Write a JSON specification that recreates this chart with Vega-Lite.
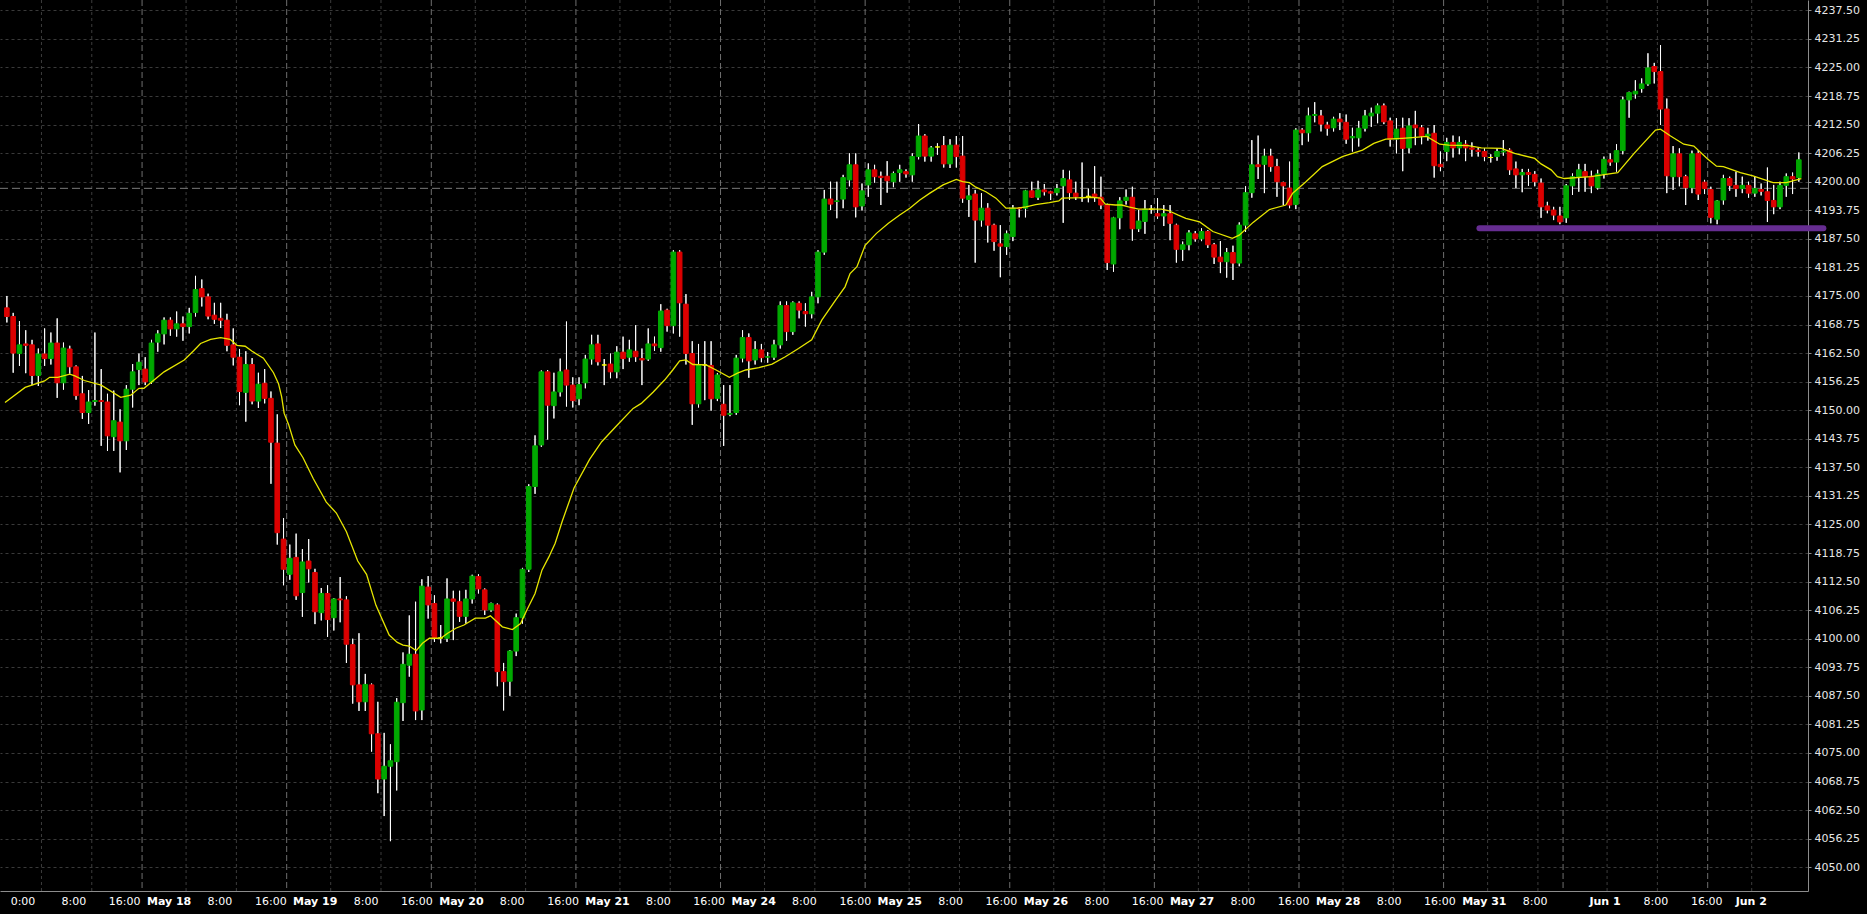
{
"$schema":"https://vega.github.io/schema/vega-lite/v6.json",
"width":1808,"height":891,
"autosize":{"type":"none"},
"padding":{"left":0,"top":0,"right":59,"bottom":23},
"background":"#000000",
"config":{"view":{"stroke":null},"font":"DejaVu Sans",
 "axisX":{"title":null,"grid":false,"ticks":false,"domain":true,"domainColor":"#8c8c8c","domainWidth":1,"labelColor":"#ffffff","labelFont":"DejaVu Sans","labelFontSize":11,"labelPadding":4,"labelOverlap":false,"labelFlush":false,"labelBound":false},
 "axisY":{"title":null,"grid":true,"gridColor":"#3a3a3a","gridDash":[3,3],"gridWidth":1,"ticks":true,"tickSize":3,"tickColor":"#8c8c8c","domain":true,"domainColor":"#8c8c8c","domainWidth":1,"labelColor":"#e6e6e6","labelFont":"DejaVu Sans","labelFontSize":11,"labelPadding":3,"labelOverlap":false,"labelFlush":false,"labelBound":false}
},
"resolve":{"axis":{"x":"shared","y":"shared"}},
"datasets":{
"vgn":[{"g":5.5},{"g":13.5},{"g":28.5},{"g":36.5},{"g":51.5},{"g":59.5},{"g":74.5},{"g":82.5},{"g":97.5},{"g":105.5},{"g":120.5},{"g":128.5},{"g":143.5},{"g":151.5},{"g":166.5},{"g":174.5},{"g":189.5},{"g":197.5},{"g":212.5},{"g":220.5},{"g":235.5},{"g":243.5},{"g":254.5},{"g":262.5},{"g":277.5}],
"vgb":[{"g":21.5},{"g":44.5},{"g":67.5},{"g":90.5},{"g":113.5},{"g":136.5},{"g":159.5},{"g":182.5},{"g":205.5},{"g":228.5},{"g":247.5},{"g":270.5}],
"cur":[{"p":4198.55}],
"lvl":[{"x1":234.2,"x2":288.9,"p":4189.8}],
"bars":[
{"i":0,"o":4172.4,"h":4175.0,"l":4169.2,"c":4170.5},
{"i":1,"o":4170.5,"h":4171.3,"l":4158.2,"c":4162.5},
{"i":2,"o":4162.4,"h":4169.5,"l":4159.7,"c":4164.3},
{"i":3,"o":4164.5,"h":4167.5,"l":4158.1,"c":4164.2},
{"i":4,"o":4164.3,"h":4165.4,"l":4155.5,"c":4157.6},
{"i":5,"o":4157.6,"h":4163.5,"l":4155.3,"c":4162.3},
{"i":6,"o":4162.3,"h":4167.9,"l":4159.7,"c":4161.3},
{"i":7,"o":4161.3,"h":4167.0,"l":4160.0,"c":4164.7},
{"i":8,"o":4164.7,"h":4170.1,"l":4152.7,"c":4156.0},
{"i":9,"o":4156.0,"h":4164.8,"l":4154.5,"c":4163.6},
{"i":10,"o":4163.4,"h":4164.1,"l":4158.0,"c":4159.5},
{"i":11,"o":4159.5,"h":4159.8,"l":4152.3,"c":4153.2},
{"i":12,"o":4153.6,"h":4157.5,"l":4148.1,"c":4149.5},
{"i":13,"o":4149.5,"h":4154.4,"l":4147.0,"c":4151.8},
{"i":14,"o":4151.9,"h":4167.0,"l":4151.0,"c":4152.1},
{"i":15,"o":4152.1,"h":4159.0,"l":4142.2,"c":4151.9},
{"i":16,"o":4151.8,"h":4153.6,"l":4141.1,"c":4144.4},
{"i":17,"o":4144.2,"h":4154.3,"l":4141.1,"c":4147.7},
{"i":18,"o":4147.4,"h":4150.2,"l":4136.4,"c":4143.3},
{"i":19,"o":4143.3,"h":4155.5,"l":4141.3,"c":4154.6},
{"i":20,"o":4154.6,"h":4160.1,"l":4150.6,"c":4158.4},
{"i":21,"o":4158.9,"h":4162.4,"l":4155.5,"c":4160.5},
{"i":22,"o":4159.0,"h":4161.6,"l":4155.5,"c":4156.2},
{"i":23,"o":4156.2,"h":4165.4,"l":4155.8,"c":4164.7},
{"i":24,"o":4164.9,"h":4167.5,"l":4162.8,"c":4166.7},
{"i":25,"o":4166.7,"h":4170.3,"l":4164.4,"c":4169.7},
{"i":26,"o":4169.7,"h":4170.3,"l":4166.3,"c":4167.8},
{"i":27,"o":4167.8,"h":4171.6,"l":4166.1,"c":4168.9},
{"i":28,"o":4168.9,"h":4170.5,"l":4165.2,"c":4168.3},
{"i":29,"o":4168.3,"h":4172.4,"l":4166.8,"c":4171.2},
{"i":30,"o":4171.4,"h":4179.4,"l":4170.5,"c":4176.4},
{"i":31,"o":4176.6,"h":4178.6,"l":4172.7,"c":4174.8},
{"i":32,"o":4174.8,"h":4175.5,"l":4169.9,"c":4170.6},
{"i":33,"o":4170.8,"h":4173.5,"l":4168.9,"c":4169.9},
{"i":34,"o":4170.1,"h":4173.5,"l":4168.0,"c":4169.7},
{"i":35,"o":4169.7,"h":4171.1,"l":4162.9,"c":4164.2},
{"i":36,"o":4164.3,"h":4167.9,"l":4159.8,"c":4161.6},
{"i":37,"o":4161.6,"h":4163.4,"l":4151.1,"c":4154.1},
{"i":38,"o":4153.9,"h":4162.9,"l":4147.5,"c":4160.0},
{"i":39,"o":4160.0,"h":4161.4,"l":4151.3,"c":4152.0},
{"i":40,"o":4152.0,"h":4158.2,"l":4150.5,"c":4155.7},
{"i":41,"o":4155.9,"h":4159.0,"l":4151.5,"c":4152.6},
{"i":42,"o":4152.6,"h":4154.1,"l":4133.9,"c":4143.0},
{"i":43,"o":4142.8,"h":4149.1,"l":4120.6,"c":4123.2},
{"i":44,"o":4121.8,"h":4126.4,"l":4111.7,"c":4115.2},
{"i":45,"o":4114.1,"h":4120.6,"l":4112.9,"c":4117.6},
{"i":46,"o":4117.8,"h":4123.0,"l":4108.5,"c":4109.4},
{"i":47,"o":4110.1,"h":4119.6,"l":4104.8,"c":4116.8},
{"i":48,"o":4117.0,"h":4121.8,"l":4112.3,"c":4115.3},
{"i":49,"o":4114.5,"h":4115.3,"l":4103.2,"c":4105.9},
{"i":50,"o":4105.7,"h":4111.1,"l":4104.0,"c":4109.9},
{"i":51,"o":4109.9,"h":4111.7,"l":4100.4,"c":4104.2},
{"i":52,"o":4104.6,"h":4108.9,"l":4101.8,"c":4108.7},
{"i":53,"o":4108.7,"h":4113.5,"l":4103.6,"c":4108.5},
{"i":54,"o":4108.5,"h":4109.3,"l":4094.7,"c":4098.8},
{"i":55,"o":4098.7,"h":4100.0,"l":4085.8,"c":4089.9},
{"i":56,"o":4089.9,"h":4101.2,"l":4084.2,"c":4086.2},
{"i":57,"o":4086.2,"h":4092.3,"l":4084.2,"c":4090.0},
{"i":58,"o":4089.9,"h":4090.2,"l":4075.3,"c":4079.2},
{"i":59,"o":4079.2,"h":4086.2,"l":4066.2,"c":4069.3},
{"i":60,"o":4069.3,"h":4079.4,"l":4061.2,"c":4072.1},
{"i":61,"o":4072.1,"h":4076.9,"l":4055.7,"c":4073.3},
{"i":62,"o":4073.1,"h":4087.0,"l":4066.8,"c":4086.1},
{"i":63,"o":4086.0,"h":4097.0,"l":4082.0,"c":4094.4},
{"i":64,"o":4094.2,"h":4105.1,"l":4091.7,"c":4096.6},
{"i":65,"o":4096.6,"h":4108.1,"l":4082.2,"c":4084.2},
{"i":66,"o":4084.4,"h":4113.0,"l":4082.2,"c":4111.5},
{"i":67,"o":4111.3,"h":4113.7,"l":4104.4,"c":4107.4},
{"i":68,"o":4107.7,"h":4109.5,"l":4099.3,"c":4100.2},
{"i":69,"o":4100.2,"h":4103.0,"l":4099.0,"c":4100.2},
{"i":70,"o":4100.1,"h":4113.2,"l":4099.3,"c":4108.7},
{"i":71,"o":4108.7,"h":4110.5,"l":4099.7,"c":4108.2},
{"i":72,"o":4108.1,"h":4110.5,"l":4103.7,"c":4104.9},
{"i":73,"o":4104.9,"h":4110.7,"l":4103.3,"c":4108.7},
{"i":74,"o":4108.7,"h":4114.0,"l":4107.7,"c":4113.7},
{"i":75,"o":4113.6,"h":4114.1,"l":4109.9,"c":4110.9},
{"i":76,"o":4110.7,"h":4111.0,"l":4105.2,"c":4106.3},
{"i":77,"o":4106.3,"h":4107.9,"l":4105.9,"c":4107.7},
{"i":78,"o":4107.4,"h":4107.7,"l":4089.6,"c":4092.8},
{"i":79,"o":4092.8,"h":4094.7,"l":4084.3,"c":4090.6},
{"i":80,"o":4090.7,"h":4097.5,"l":4087.5,"c":4097.3},
{"i":81,"o":4097.3,"h":4105.5,"l":4096.2,"c":4104.6},
{"i":82,"o":4104.6,"h":4115.5,"l":4103.3,"c":4115.2},
{"i":83,"o":4115.2,"h":4133.8,"l":4114.6,"c":4133.3},
{"i":84,"o":4133.3,"h":4144.5,"l":4131.7,"c":4142.2},
{"i":85,"o":4142.4,"h":4158.7,"l":4142.0,"c":4158.4},
{"i":86,"o":4158.4,"h":4158.8,"l":4143.6,"c":4151.1},
{"i":87,"o":4151.0,"h":4158.2,"l":4148.2,"c":4154.0},
{"i":88,"o":4154.0,"h":4161.3,"l":4153.0,"c":4158.4},
{"i":89,"o":4158.8,"h":4169.4,"l":4150.8,"c":4155.5},
{"i":90,"o":4155.5,"h":4157.2,"l":4150.6,"c":4152.1},
{"i":91,"o":4152.5,"h":4157.2,"l":4151.1,"c":4155.6},
{"i":92,"o":4156.0,"h":4162.1,"l":4154.8,"c":4161.2},
{"i":93,"o":4161.2,"h":4166.5,"l":4160.0,"c":4164.3},
{"i":94,"o":4164.5,"h":4166.5,"l":4159.8,"c":4160.6},
{"i":95,"o":4159.9,"h":4161.2,"l":4155.5,"c":4159.9},
{"i":96,"o":4160.1,"h":4162.4,"l":4157.0,"c":4158.4},
{"i":97,"o":4158.4,"h":4164.0,"l":4157.0,"c":4162.7},
{"i":98,"o":4162.7,"h":4166.1,"l":4159.0,"c":4161.3},
{"i":99,"o":4161.6,"h":4165.4,"l":4160.6,"c":4163.2},
{"i":100,"o":4162.9,"h":4168.6,"l":4160.6,"c":4161.7},
{"i":101,"o":4161.3,"h":4163.5,"l":4155.5,"c":4161.0},
{"i":102,"o":4161.2,"h":4167.9,"l":4160.8,"c":4164.5},
{"i":103,"o":4164.5,"h":4166.1,"l":4163.0,"c":4164.1},
{"i":104,"o":4163.7,"h":4173.2,"l":4162.8,"c":4171.7},
{"i":105,"o":4171.9,"h":4172.2,"l":4167.2,"c":4168.5},
{"i":106,"o":4168.5,"h":4185.0,"l":4166.8,"c":4184.6},
{"i":107,"o":4184.6,"h":4185.0,"l":4166.1,"c":4173.5},
{"i":108,"o":4173.2,"h":4175.4,"l":4160.0,"c":4162.4},
{"i":109,"o":4162.4,"h":4165.1,"l":4146.8,"c":4151.4},
{"i":110,"o":4151.4,"h":4164.5,"l":4150.6,"c":4159.9},
{"i":111,"o":4159.9,"h":4165.1,"l":4152.2,"c":4159.9},
{"i":112,"o":4159.8,"h":4165.1,"l":4149.9,"c":4152.5},
{"i":113,"o":4152.6,"h":4158.1,"l":4152.0,"c":4157.7},
{"i":114,"o":4151.3,"h":4155.5,"l":4142.2,"c":4148.9},
{"i":115,"o":4149.1,"h":4155.5,"l":4148.7,"c":4149.3},
{"i":116,"o":4149.5,"h":4162.1,"l":4149.0,"c":4161.4},
{"i":117,"o":4161.4,"h":4167.5,"l":4160.5,"c":4165.9},
{"i":118,"o":4165.9,"h":4166.8,"l":4157.1,"c":4160.8},
{"i":119,"o":4161.0,"h":4165.1,"l":4160.0,"c":4163.3},
{"i":120,"o":4163.2,"h":4164.5,"l":4160.5,"c":4161.5},
{"i":121,"o":4161.6,"h":4162.7,"l":4160.4,"c":4161.7},
{"i":122,"o":4161.6,"h":4165.4,"l":4161.0,"c":4164.3},
{"i":123,"o":4164.3,"h":4173.8,"l":4163.5,"c":4172.9},
{"i":124,"o":4172.9,"h":4173.8,"l":4165.2,"c":4167.2},
{"i":125,"o":4167.2,"h":4173.8,"l":4166.5,"c":4173.5},
{"i":126,"o":4173.4,"h":4173.8,"l":4170.1,"c":4171.9},
{"i":127,"o":4171.6,"h":4173.4,"l":4168.3,"c":4171.1},
{"i":128,"o":4171.1,"h":4175.9,"l":4170.1,"c":4174.8},
{"i":129,"o":4174.8,"h":4185.0,"l":4173.4,"c":4184.6},
{"i":130,"o":4184.6,"h":4198.2,"l":4184.0,"c":4196.2},
{"i":131,"o":4196.2,"h":4200.0,"l":4193.8,"c":4195.1},
{"i":132,"o":4195.7,"h":4200.0,"l":4192.0,"c":4195.8},
{"i":133,"o":4196.2,"h":4201.5,"l":4194.2,"c":4200.9},
{"i":134,"o":4200.4,"h":4206.2,"l":4199.0,"c":4203.7},
{"i":135,"o":4203.7,"h":4206.2,"l":4192.2,"c":4194.5},
{"i":136,"o":4194.7,"h":4199.6,"l":4193.7,"c":4198.0},
{"i":137,"o":4199.3,"h":4204.0,"l":4196.7,"c":4202.6},
{"i":138,"o":4202.6,"h":4203.7,"l":4199.8,"c":4201.1},
{"i":139,"o":4201.2,"h":4202.2,"l":4194.9,"c":4200.9},
{"i":140,"o":4201.2,"h":4204.5,"l":4197.6,"c":4200.2},
{"i":141,"o":4200.0,"h":4202.2,"l":4198.8,"c":4201.8},
{"i":142,"o":4202.0,"h":4203.7,"l":4200.0,"c":4202.6},
{"i":143,"o":4202.2,"h":4202.7,"l":4200.9,"c":4201.7},
{"i":144,"o":4201.5,"h":4206.2,"l":4200.0,"c":4205.5},
{"i":145,"o":4205.5,"h":4212.6,"l":4204.9,"c":4210.0},
{"i":146,"o":4210.0,"h":4210.4,"l":4204.4,"c":4205.6},
{"i":147,"o":4205.6,"h":4207.8,"l":4204.4,"c":4207.4},
{"i":148,"o":4207.6,"h":4208.4,"l":4205.9,"c":4207.6},
{"i":149,"o":4207.9,"h":4210.0,"l":4203.1,"c":4203.9},
{"i":150,"o":4203.9,"h":4209.3,"l":4203.0,"c":4208.0},
{"i":151,"o":4208.0,"h":4210.0,"l":4203.1,"c":4205.5},
{"i":152,"o":4205.6,"h":4210.0,"l":4195.4,"c":4196.4},
{"i":153,"o":4196.1,"h":4199.3,"l":4192.3,"c":4196.9},
{"i":154,"o":4197.3,"h":4198.2,"l":4182.3,"c":4191.6},
{"i":155,"o":4191.6,"h":4197.5,"l":4190.2,"c":4194.2},
{"i":156,"o":4194.2,"h":4195.3,"l":4186.7,"c":4190.5},
{"i":157,"o":4190.5,"h":4190.8,"l":4184.9,"c":4186.9},
{"i":158,"o":4186.4,"h":4190.5,"l":4179.1,"c":4185.9},
{"i":159,"o":4185.8,"h":4189.3,"l":4184.0,"c":4188.6},
{"i":160,"o":4188.0,"h":4194.9,"l":4187.0,"c":4194.2},
{"i":161,"o":4194.2,"h":4194.4,"l":4192.2,"c":4194.1},
{"i":162,"o":4194.2,"h":4198.2,"l":4192.2,"c":4198.0},
{"i":163,"o":4198.0,"h":4200.0,"l":4196.5,"c":4196.6},
{"i":164,"o":4196.6,"h":4200.2,"l":4196.0,"c":4198.2},
{"i":165,"o":4198.2,"h":4199.5,"l":4197.0,"c":4197.8},
{"i":166,"o":4197.8,"h":4198.0,"l":4196.0,"c":4197.5},
{"i":167,"o":4197.6,"h":4199.5,"l":4197.0,"c":4198.5},
{"i":168,"o":4199.1,"h":4202.6,"l":4191.0,"c":4200.7},
{"i":169,"o":4200.4,"h":4202.4,"l":4196.0,"c":4197.6},
{"i":170,"o":4197.5,"h":4200.0,"l":4196.0,"c":4196.7},
{"i":171,"o":4196.5,"h":4204.2,"l":4195.6,"c":4196.5},
{"i":172,"o":4196.8,"h":4198.5,"l":4195.5,"c":4196.8},
{"i":173,"o":4197.3,"h":4203.4,"l":4195.6,"c":4196.6},
{"i":174,"o":4196.6,"h":4201.1,"l":4194.0,"c":4194.9},
{"i":175,"o":4194.9,"h":4195.2,"l":4180.7,"c":4182.3},
{"i":176,"o":4182.0,"h":4192.3,"l":4180.3,"c":4192.1},
{"i":177,"o":4192.1,"h":4196.6,"l":4189.6,"c":4195.8},
{"i":178,"o":4195.9,"h":4198.3,"l":4195.0,"c":4196.6},
{"i":179,"o":4196.6,"h":4198.9,"l":4187.1,"c":4189.7},
{"i":180,"o":4189.7,"h":4193.8,"l":4189.0,"c":4191.4},
{"i":181,"o":4191.3,"h":4196.0,"l":4188.6,"c":4194.0},
{"i":182,"o":4194.0,"h":4194.9,"l":4193.0,"c":4194.0},
{"i":183,"o":4193.0,"h":4196.4,"l":4191.9,"c":4192.5},
{"i":184,"o":4192.5,"h":4194.9,"l":4190.3,"c":4193.0},
{"i":185,"o":4193.0,"h":4194.9,"l":4187.2,"c":4190.9},
{"i":186,"o":4190.5,"h":4190.8,"l":4182.3,"c":4185.2},
{"i":187,"o":4185.2,"h":4186.9,"l":4182.7,"c":4186.2},
{"i":188,"o":4186.2,"h":4189.4,"l":4185.0,"c":4188.8},
{"i":189,"o":4188.6,"h":4189.2,"l":4186.9,"c":4187.5},
{"i":190,"o":4187.5,"h":4189.8,"l":4187.0,"c":4189.1},
{"i":191,"o":4189.1,"h":4189.4,"l":4185.5,"c":4186.2},
{"i":192,"o":4186.2,"h":4186.6,"l":4182.0,"c":4183.5},
{"i":193,"o":4183.5,"h":4187.0,"l":4180.0,"c":4182.5},
{"i":194,"o":4182.5,"h":4185.5,"l":4179.0,"c":4184.5},
{"i":195,"o":4184.5,"h":4186.0,"l":4178.5,"c":4182.2},
{"i":196,"o":4182.2,"h":4191.1,"l":4181.5,"c":4190.5},
{"i":197,"o":4190.5,"h":4199.0,"l":4189.0,"c":4197.6},
{"i":198,"o":4197.6,"h":4209.1,"l":4196.5,"c":4203.7},
{"i":199,"o":4203.7,"h":4210.1,"l":4200.6,"c":4203.3},
{"i":200,"o":4203.8,"h":4207.2,"l":4197.5,"c":4205.6},
{"i":201,"o":4205.6,"h":4207.2,"l":4202.2,"c":4203.3},
{"i":202,"o":4203.3,"h":4205.0,"l":4196.7,"c":4200.0},
{"i":203,"o":4199.8,"h":4200.0,"l":4194.9,"c":4199.1},
{"i":204,"o":4198.6,"h":4204.4,"l":4194.2,"c":4194.9},
{"i":205,"o":4195.0,"h":4211.7,"l":4194.0,"c":4211.3},
{"i":206,"o":4211.3,"h":4211.7,"l":4208.0,"c":4210.7},
{"i":207,"o":4210.7,"h":4216.2,"l":4208.8,"c":4214.4},
{"i":208,"o":4214.5,"h":4217.4,"l":4213.0,"c":4214.7},
{"i":209,"o":4214.4,"h":4215.7,"l":4211.0,"c":4212.6},
{"i":210,"o":4212.4,"h":4213.1,"l":4210.1,"c":4211.7},
{"i":211,"o":4211.8,"h":4214.2,"l":4211.0,"c":4213.7},
{"i":212,"o":4213.7,"h":4215.0,"l":4211.3,"c":4213.1},
{"i":213,"o":4213.0,"h":4214.7,"l":4208.3,"c":4209.3},
{"i":214,"o":4209.6,"h":4211.8,"l":4206.6,"c":4209.9},
{"i":215,"o":4209.6,"h":4213.3,"l":4207.7,"c":4211.7},
{"i":216,"o":4211.7,"h":4215.7,"l":4211.0,"c":4214.4},
{"i":217,"o":4214.4,"h":4216.2,"l":4212.0,"c":4215.0},
{"i":218,"o":4215.0,"h":4217.1,"l":4212.8,"c":4216.6},
{"i":219,"o":4216.6,"h":4217.1,"l":4212.6,"c":4213.1},
{"i":220,"o":4213.3,"h":4214.0,"l":4207.7,"c":4209.3},
{"i":221,"o":4209.3,"h":4213.9,"l":4206.2,"c":4211.5},
{"i":222,"o":4211.7,"h":4214.0,"l":4202.3,"c":4207.3},
{"i":223,"o":4207.4,"h":4213.9,"l":4206.2,"c":4212.2},
{"i":224,"o":4212.4,"h":4215.5,"l":4208.0,"c":4211.8},
{"i":225,"o":4211.8,"h":4212.4,"l":4208.2,"c":4210.0},
{"i":226,"o":4210.0,"h":4211.8,"l":4209.0,"c":4210.4},
{"i":227,"o":4210.6,"h":4212.4,"l":4200.9,"c":4203.5},
{"i":228,"o":4203.8,"h":4206.6,"l":4202.3,"c":4203.3},
{"i":229,"o":4206.6,"h":4209.6,"l":4204.5,"c":4208.6},
{"i":230,"o":4208.6,"h":4210.1,"l":4205.3,"c":4207.4},
{"i":231,"o":4207.4,"h":4209.9,"l":4206.0,"c":4208.6},
{"i":232,"o":4208.2,"h":4209.1,"l":4204.5,"c":4207.4},
{"i":233,"o":4207.4,"h":4208.6,"l":4205.5,"c":4207.1},
{"i":234,"o":4206.9,"h":4207.4,"l":4205.5,"c":4206.6},
{"i":235,"o":4206.6,"h":4207.3,"l":4204.5,"c":4205.5},
{"i":236,"o":4205.3,"h":4206.0,"l":4204.2,"c":4205.3},
{"i":237,"o":4205.5,"h":4207.3,"l":4204.6,"c":4206.6},
{"i":238,"o":4206.5,"h":4209.1,"l":4205.7,"c":4206.7},
{"i":239,"o":4206.9,"h":4207.3,"l":4201.5,"c":4202.6},
{"i":240,"o":4202.8,"h":4204.4,"l":4198.6,"c":4201.5},
{"i":241,"o":4201.5,"h":4202.8,"l":4197.7,"c":4202.0},
{"i":242,"o":4202.0,"h":4202.8,"l":4199.1,"c":4201.6},
{"i":243,"o":4201.6,"h":4202.3,"l":4199.0,"c":4200.0},
{"i":244,"o":4199.7,"h":4200.7,"l":4192.1,"c":4194.5},
{"i":245,"o":4194.7,"h":4195.6,"l":4193.1,"c":4193.8},
{"i":246,"o":4193.8,"h":4194.5,"l":4191.6,"c":4192.7},
{"i":247,"o":4192.5,"h":4194.5,"l":4190.7,"c":4191.2},
{"i":248,"o":4192.1,"h":4199.5,"l":4191.0,"c":4199.1},
{"i":249,"o":4199.1,"h":4201.8,"l":4197.1,"c":4201.1},
{"i":250,"o":4201.1,"h":4203.9,"l":4197.8,"c":4202.6},
{"i":251,"o":4202.2,"h":4203.9,"l":4197.8,"c":4201.1},
{"i":252,"o":4201.2,"h":4202.4,"l":4197.5,"c":4199.1},
{"i":253,"o":4198.7,"h":4202.6,"l":4198.3,"c":4201.7},
{"i":254,"o":4201.7,"h":4205.5,"l":4200.7,"c":4204.9},
{"i":255,"o":4204.8,"h":4206.2,"l":4203.5,"c":4204.3},
{"i":256,"o":4204.3,"h":4208.2,"l":4202.2,"c":4206.8},
{"i":257,"o":4206.8,"h":4218.6,"l":4206.0,"c":4217.9},
{"i":258,"o":4217.9,"h":4219.7,"l":4214.0,"c":4219.5},
{"i":259,"o":4219.2,"h":4222.2,"l":4218.2,"c":4219.8},
{"i":260,"o":4220.4,"h":4222.6,"l":4219.5,"c":4221.4},
{"i":261,"o":4221.4,"h":4228.1,"l":4221.0,"c":4224.9},
{"i":262,"o":4225.2,"h":4226.0,"l":4221.5,"c":4224.1},
{"i":263,"o":4224.1,"h":4229.9,"l":4212.4,"c":4215.9},
{"i":264,"o":4215.9,"h":4218.2,"l":4197.5,"c":4201.3},
{"i":265,"o":4201.1,"h":4207.8,"l":4198.2,"c":4206.1},
{"i":266,"o":4206.1,"h":4207.3,"l":4199.0,"c":4201.1},
{"i":267,"o":4201.1,"h":4201.5,"l":4194.9,"c":4198.7},
{"i":268,"o":4198.7,"h":4206.8,"l":4197.5,"c":4206.1},
{"i":269,"o":4206.2,"h":4206.9,"l":4196.0,"c":4197.3},
{"i":270,"o":4199.9,"h":4200.4,"l":4197.3,"c":4198.5},
{"i":271,"o":4198.3,"h":4198.9,"l":4190.9,"c":4192.2},
{"i":272,"o":4191.8,"h":4196.0,"l":4190.7,"c":4195.8},
{"i":273,"o":4196.0,"h":4201.5,"l":4195.0,"c":4200.7},
{"i":274,"o":4200.7,"h":4201.1,"l":4198.0,"c":4199.2},
{"i":275,"o":4199.2,"h":4202.2,"l":4196.7,"c":4198.5},
{"i":276,"o":4198.5,"h":4201.1,"l":4197.5,"c":4199.2},
{"i":277,"o":4199.2,"h":4200.0,"l":4196.5,"c":4197.5},
{"i":278,"o":4197.5,"h":4201.1,"l":4196.7,"c":4198.5},
{"i":279,"o":4198.3,"h":4199.6,"l":4197.0,"c":4197.9},
{"i":280,"o":4197.8,"h":4203.1,"l":4191.2,"c":4195.9},
{"i":281,"o":4195.9,"h":4199.3,"l":4192.9,"c":4194.5},
{"i":282,"o":4194.5,"h":4200.0,"l":4194.0,"c":4199.2},
{"i":283,"o":4199.2,"h":4201.8,"l":4196.7,"c":4201.1},
{"i":284,"o":4201.1,"h":4202.0,"l":4197.3,"c":4200.6},
{"i":285,"o":4200.9,"h":4206.4,"l":4200.0,"c":4204.8}
],
"ma":[
{"i":-0.3,"v":4151.7},{"i":2.9,"v":4155.0},{"i":6.0,"v":4156.4},{"i":6.8,"v":4157.2},{"i":8.1,"v":4157.2},{"i":10.0,"v":4157.9},{"i":10.8,"v":4157.5},{"i":12.3,"v":4156.5},{"i":15.0,"v":4155.5},{"i":18.1,"v":4152.8},{"i":19.7,"v":4153.3},{"i":21.0,"v":4154.8},{"i":21.8,"v":4154.8},{"i":25.0,"v":4158.4},{"i":28.2,"v":4161.0},{"i":29.7,"v":4163.0},{"i":30.8,"v":4164.6},{"i":32.4,"v":4165.5},{"i":34.0,"v":4165.9},{"i":35.5,"v":4165.5},{"i":36.6,"v":4164.2},{"i":37.9,"v":4164.0},{"i":39.0,"v":4162.9},{"i":40.8,"v":4161.4},{"i":42.4,"v":4158.2},{"i":43.2,"v":4155.8},{"i":43.7,"v":4152.9},{"i":44.1,"v":4149.3},{"i":44.8,"v":4146.9},{"i":45.8,"v":4142.4},{"i":47.1,"v":4139.6},{"i":48.7,"v":4135.1},{"i":50.8,"v":4129.9},{"i":52.4,"v":4127.5},{"i":54.0,"v":4123.4},{"i":55.8,"v":4117.0},{"i":57.2,"v":4114.1},{"i":58.7,"v":4107.3},{"i":60.8,"v":4100.8},{"i":62.1,"v":4099.2},{"i":63.0,"v":4098.6},{"i":64.0,"v":4098.4},{"i":65.1,"v":4097.4},{"i":66.1,"v":4099.0},{"i":67.2,"v":4100.1},{"i":69.0,"v":4100.1},{"i":70.1,"v":4101.2},{"i":71.4,"v":4102.3},{"i":72.7,"v":4103.0},{"i":74.5,"v":4104.5},{"i":76.1,"v":4104.5},{"i":76.9,"v":4105.0},{"i":78.8,"v":4102.6},{"i":80.4,"v":4102.0},{"i":81.7,"v":4103.3},{"i":82.7,"v":4106.3},{"i":84.0,"v":4109.9},{"i":85.1,"v":4115.0},{"i":86.2,"v":4117.9},{"i":87.2,"v":4120.9},{"i":88.3,"v":4125.6},{"i":90.2,"v":4133.0},{"i":92.7,"v":4139.3},{"i":94.6,"v":4143.1},{"i":96.9,"v":4146.5},{"i":99.6,"v":4150.4},{"i":100.9,"v":4151.5},{"i":102.8,"v":4154.0},{"i":104.6,"v":4156.6},{"i":105.9,"v":4158.8},{"i":107.0,"v":4160.8},{"i":108.0,"v":4161.0},{"i":109.1,"v":4160.0},{"i":111.2,"v":4159.9},{"i":112.8,"v":4158.8},{"i":114.9,"v":4157.2},{"i":116.2,"v":4158.1},{"i":117.5,"v":4158.8},{"i":119.6,"v":4159.3},{"i":121.7,"v":4160.1},{"i":123.8,"v":4161.7},{"i":125.9,"v":4163.5},{"i":128.0,"v":4165.4},{"i":129.6,"v":4169.7},{"i":131.8,"v":4174.1},{"i":133.3,"v":4177.0},{"i":134.1,"v":4179.9},{"i":135.2,"v":4181.4},{"i":136.5,"v":4186.1},{"i":138.3,"v":4188.7},{"i":140.2,"v":4190.9},{"i":142.0,"v":4192.7},{"i":143.6,"v":4194.2},{"i":145.2,"v":4196.0},{"i":146.8,"v":4197.5},{"i":148.9,"v":4199.3},{"i":151.0,"v":4200.5},{"i":152.0,"v":4200.0},{"i":153.1,"v":4199.8},{"i":154.1,"v":4198.8},{"i":155.7,"v":4197.8},{"i":157.3,"v":4196.4},{"i":158.9,"v":4194.2},{"i":160.7,"v":4194.2},{"i":162.1,"v":4194.5},{"i":163.6,"v":4195.0},{"i":165.8,"v":4195.4},{"i":167.3,"v":4195.8},{"i":167.8,"v":4196.4},{"i":171.0,"v":4196.5},{"i":172.6,"v":4196.6},{"i":173.9,"v":4196.4},{"i":174.7,"v":4195.1},{"i":176.3,"v":4194.9},{"i":177.3,"v":4194.9},{"i":178.4,"v":4194.5},{"i":180.0,"v":4194.0},{"i":181.6,"v":4194.0},{"i":183.6,"v":4194.0},{"i":184.7,"v":4193.7},{"i":186.3,"v":4192.7},{"i":187.5,"v":4192.0},{"i":189.7,"v":4191.2},{"i":191.8,"v":4189.1},{"i":194.9,"v":4187.6},{"i":196.0,"v":4188.3},{"i":198.2,"v":4191.1},{"i":200.8,"v":4193.9},{"i":203.4,"v":4194.9},{"i":204.5,"v":4197.5},{"i":206.6,"v":4200.0},{"i":209.2,"v":4203.3},{"i":212.4,"v":4205.5},{"i":215.6,"v":4206.9},{"i":217.4,"v":4208.4},{"i":219.3,"v":4209.3},{"i":221.9,"v":4209.5},{"i":224.0,"v":4209.7},{"i":225.8,"v":4209.9},{"i":227.9,"v":4208.2},{"i":229.3,"v":4208.0},{"i":232.4,"v":4207.9},{"i":234.5,"v":4207.4},{"i":237.7,"v":4207.3},{"i":239.8,"v":4206.2},{"i":243.0,"v":4205.1},{"i":244.0,"v":4203.9},{"i":245.6,"v":4202.6},{"i":246.6,"v":4201.1},{"i":247.7,"v":4200.7},{"i":251.9,"v":4201.1},{"i":256.2,"v":4202.0},{"i":258.8,"v":4206.2},{"i":262.2,"v":4211.3},{"i":263.0,"v":4211.5},{"i":264.6,"v":4210.0},{"i":266.7,"v":4208.2},{"i":268.3,"v":4207.8},{"i":270.4,"v":4205.1},{"i":271.9,"v":4203.4},{"i":273.0,"v":4203.3},{"i":275.7,"v":4202.0},{"i":277.7,"v":4201.3},{"i":280.9,"v":4199.8},{"i":283.0,"v":4199.8},{"i":285.4,"v":4200.7}
]
},
"encoding":{
 "x":{"field":"i","type":"quantitative",
   "scale":{"domain":[-0.3,285.66],"nice":false,"zero":false},
   "axis":{"orient":"bottom",
     "values":[2.48,10.56,18.65,25.72,33.8,41.89,48.96,57.05,65.13,72.21,80.29,88.37,95.45,103.53,111.62,118.69,126.77,134.86,141.93,150.02,158.1,165.17,173.26,181.34,188.42,196.5,204.58,211.66,219.74,227.83,234.9,242.98,254.1,262.19,270.27,277.35],
     "labelExpr":"['0:00','8:00','16:00','May 18','8:00','16:00','May 19','8:00','16:00','May 20','8:00','16:00','May 21','8:00','16:00','May 24','8:00','16:00','May 25','8:00','16:00','May 26','8:00','16:00','May 27','8:00','16:00','May 28','8:00','16:00','May 31','8:00','Jun 1','8:00','16:00','Jun 2'][indexof([2.48,10.56,18.65,25.72,33.8,41.89,48.96,57.05,65.13,72.21,80.29,88.37,95.45,103.53,111.62,118.69,126.77,134.86,141.93,150.02,158.1,165.17,173.26,181.34,188.42,196.5,204.58,211.66,219.74,227.83,234.9,242.98,254.1,262.19,270.27,277.35], datum.value)]",
     "labelFontWeight":{"condition":{"test":"indexof([25.72,48.96,72.21,95.45,118.69,141.93,165.17,188.42,211.66,234.9,254.1,277.35], datum.value) >= 0","value":"bold"},"value":"normal"}}},
 "y":{"field":"l","type":"quantitative",
   "scale":{"domain":[4044.8,4239.76],"nice":false,"zero":false},
   "axis":{"orient":"right",
     "values":[4050,4056.25,4062.5,4068.75,4075,4081.25,4087.5,4093.75,4100,4106.25,4112.5,4118.75,4125,4131.25,4137.5,4143.75,4150,4156.25,4162.5,4168.75,4175,4181.25,4187.5,4193.75,4200,4206.25,4212.5,4218.75,4225,4231.25,4237.5],
     "format":".2f"}}
},
"layer":[
{"data":{"name":"bars"},
 "mark":{"type":"rule","color":"#ffffff","strokeWidth":1,"clip":true},
 "encoding":{"y2":{"field":"h"}}},
{"data":{"name":"vgn"},
 "mark":{"type":"rule","color":"#3c3c3c","strokeDash":[3,3],"strokeWidth":1},
 "encoding":{"x":{"field":"g","type":"quantitative"},"y":null}},
{"data":{"name":"vgb"},
 "mark":{"type":"rule","color":"#6e6e6e","strokeDash":[6,3],"strokeWidth":1},
 "encoding":{"x":{"field":"g","type":"quantitative"},"y":null}},
{"data":{"name":"cur"},
 "mark":{"type":"rule","color":"#7a7a7a","strokeDash":[8,4],"strokeWidth":1},
 "encoding":{"y":{"field":"p","type":"quantitative"},"x":null}},
{"data":{"name":"bars"},
 "mark":{"type":"rule","color":"#ffffff","strokeWidth":1,"clip":true},
 "encoding":{"y2":{"field":"h"}}},
{"data":{"name":"bars"},
 "mark":{"type":"bar","size":4.6,"strokeWidth":1,"clip":true},
 "encoding":{
   "y":{"field":"o","type":"quantitative"},
   "y2":{"field":"c"},
   "color":{"condition":[{"test":"datum.c > datum.o","value":"#00a800"},{"test":"datum.c < datum.o","value":"#dc0000"}],"value":"#ffff00"},
   "stroke":{"condition":[{"test":"datum.c > datum.o","value":"#00a800"},{"test":"datum.c < datum.o","value":"#dc0000"}],"value":"#ffff00"}}},
{"data":{"name":"ma"},
 "mark":{"type":"line","color":"#e6e600","strokeWidth":1.3,"clip":true},
 "encoding":{"y":{"field":"v","type":"quantitative"}}},
{"data":{"name":"lvl"},
 "mark":{"type":"rule","color":"#662d91","strokeWidth":6,"strokeCap":"round","clip":false},
 "encoding":{"x":{"field":"x1","type":"quantitative"},"x2":{"field":"x2"},"y":{"field":"p","type":"quantitative"}}}
]
}
